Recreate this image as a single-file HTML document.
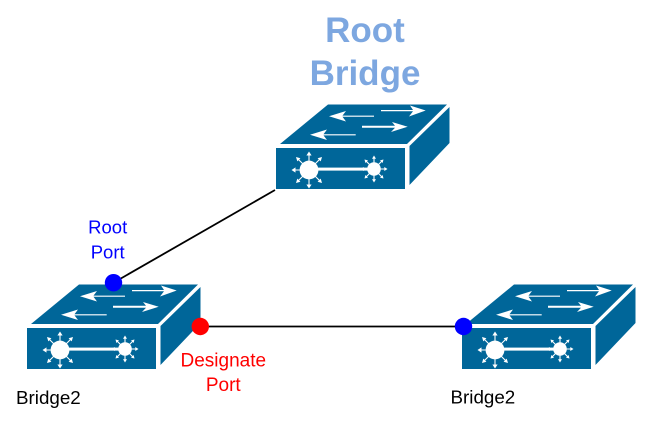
<!DOCTYPE html>
<html>
<head>
<meta charset="utf-8">
<style>
html,body{margin:0;padding:0;background:#fff;}
svg{display:block;}
text{font-family:"Liberation Sans",sans-serif;}
</style>
</head>
<body>
<svg width="655" height="427" viewBox="0 0 655 427" xmlns="http://www.w3.org/2000/svg">
<defs>
<g id="sw">
  <polygon points="280,144 328,104.5 447,104.5 407,144" fill="#006699"/>
  <polygon points="276,148 405,148 405,189 276,189" fill="#006699"/>
  <polygon points="409.5,146 449.5,107 449.5,143 409.5,185" fill="#006699"/>
  <path d="M329,116.3 L346,111 L342.5,115.6 H374 V116.7 H342.5 L346,121.5 Z" fill="#fff"/>
  <path d="M425.7,110.5 L410,105.5 L413,110 H381 V111.2 H413 L409,116.5 Z" fill="#fff"/>
  <path d="M310,134.8 L327,129.5 L323.5,134.3 H355.7 V135.4 H323.5 L327,140 Z" fill="#fff"/>
  <path d="M407.7,126.7 L392,122 L395,125.8 H362 V127.8 H395 L391,132 Z" fill="#fff"/>
  <rect x="309" y="167.6" width="65" height="3" fill="#fff"/>
  <g stroke="#fff" stroke-width="1.1" fill="none">
    <path d="M309,170 V153 M309,170 V186 M309,170 H292.5 M309,170 H322 M309,170 L297.5,158.5 M309,170 L320.5,158.5 M309,170 L297.5,181.5 M309,170 L320.5,181.5"/>
    <path d="M374,169 V157 M374,169 V181 M374,169 H362 M374,169 H386 M374,169 L365.5,160.5 M374,169 L382.5,160.5 M374,169 L365.5,177.5 M374,169 L382.5,177.5"/>
  </g>
  <g fill="#fff">
    <path d="M309,151.5 l-2.6,4 h5.2 Z M309,188.5 l-2.6,-4 h5.2 Z M291.5,170 l4,-2.6 v5.2 Z"/>
    <path d="M296,157 l1.3,4.4 l3.1,-3.1 Z M322,157 l-4.4,1.3 l3.1,3.1 Z M296,183 l4.4,-1.3 l-3.1,-3.1 Z M322,183 l-1.3,-4.4 l-3.1,3.1 Z"/>
    <path d="M374,155.5 l-2,3.2 h4 Z M374,182.5 l-2,-3.2 h4 Z M360.5,169 l3.2,-2 v4 Z M387.5,169 l-3.2,-2 v4 Z"/>
    <path d="M364.5,159.5 l.9,3.5 l2.6,-2.6 Z M383.5,159.5 l-3.5,.9 l2.6,2.6 Z M364.5,178.5 l3.5,-.9 l-2.6,-2.6 Z M383.5,178.5 l-.9,-3.5 l-2.6,2.6 Z"/>
    <circle cx="309" cy="170" r="9.4"/>
    <circle cx="374" cy="169" r="6.8"/>
  </g>
</g>
</defs>

<line x1="275" y1="190" x2="113" y2="283" stroke="#000" stroke-width="1.8"/>
<line x1="200" y1="326.5" x2="463" y2="326.5" stroke="#000" stroke-width="1.8"/>

<use href="#sw"/>
<use href="#sw" transform="translate(-249,180)"/>
<use href="#sw" transform="translate(186,180)"/>

<circle cx="113.5" cy="282.7" r="8.7" fill="#0000ff"/>
<circle cx="200.3" cy="326.5" r="8.7" fill="#ff0000"/>
<circle cx="463.5" cy="326.5" r="8.7" fill="#0000ff"/>

<g font-weight="bold" font-size="35" fill="#7da7e0" text-anchor="middle">
  <text x="365" y="42">Root</text>
  <text x="365" y="85">Bridge</text>
</g>
<g font-size="18.5" fill="#0000ff" text-anchor="middle">
  <text x="107.7" y="233.5">Root</text>
  <text x="107.7" y="258.5">Port</text>
</g>
<g font-size="19" fill="#ff0000" text-anchor="middle">
  <text x="223.3" y="366.5">Designate</text>
  <text x="223.3" y="391">Port</text>
</g>
<g font-size="18.8" fill="#000">
  <text x="16" y="404">Bridge2</text>
  <text x="450.5" y="403.5">Bridge2</text>
</g>
</svg>
</body>
</html>
